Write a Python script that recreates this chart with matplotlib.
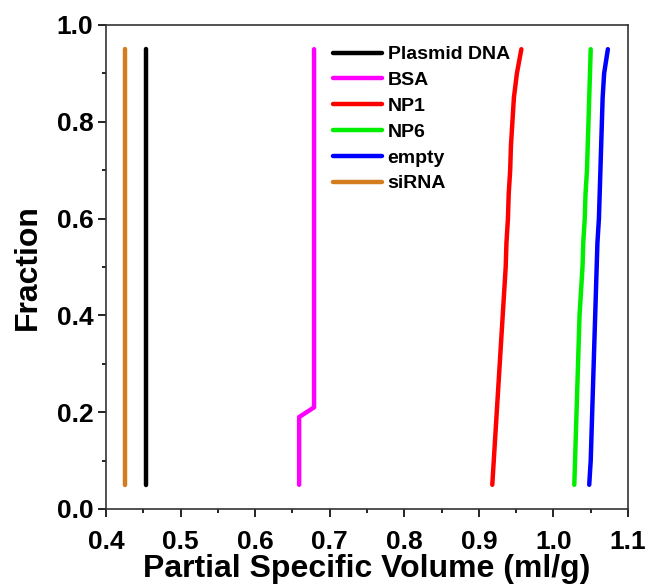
import matplotlib
matplotlib.use("Agg")
import matplotlib.pyplot as plt
from matplotlib.ticker import MultipleLocator

plt.rcParams['font.family'] = ['Liberation Sans', 'DejaVu Sans']
plt.rcParams['font.weight'] = 'bold'

fraction = [0.05, 0.10, 0.15, 0.20, 0.25, 0.30, 0.35, 0.40, 0.45, 0.50,
            0.55, 0.60, 0.65, 0.70, 0.75, 0.80, 0.85, 0.90, 0.95]

plasmid_dna = [0.453] * 19
sirna = [0.425] * 19
np1 = [0.918, 0.920, 0.922, 0.924, 0.926, 0.928, 0.930, 0.932, 0.934, 0.936,
       0.937, 0.939, 0.940, 0.942, 0.943, 0.945, 0.947, 0.951, 0.957]
np6 = [1.028, 1.029, 1.030, 1.031, 1.032, 1.033, 1.034, 1.035, 1.037, 1.039,
       1.040, 1.042, 1.043, 1.045, 1.046, 1.047, 1.048, 1.049, 1.050]
empty = [1.048, 1.050, 1.051, 1.052, 1.053, 1.054, 1.055, 1.056, 1.057, 1.058,
         1.059, 1.061, 1.062, 1.063, 1.064, 1.065, 1.066, 1.068, 1.073]
bsa_fraction = [0.05, 0.19, 0.21, 0.95]
bsa = [0.659, 0.659, 0.679, 0.679]

fig = plt.figure(figsize=(6.48, 5.86), dpi=100)
ax = fig.add_axes([106/648, 1 - 509/586, (628-106)/648, (509-25)/586])

lw = 3.2
kw = dict(lw=lw, solid_capstyle='round', solid_joinstyle='round')
ax.plot(plasmid_dna, fraction, color='black', label='Plasmid DNA', **kw)
ax.plot(bsa, bsa_fraction, color='#FF00FF', label='BSA', **kw)
ax.plot(np1, fraction, color='#FF0000', label='NP1', **kw)
ax.plot(np6, fraction, color='#00EE00', label='NP6', **kw)
ax.plot(empty, fraction, color='#0000FF', label='empty', **kw)
ax.plot(sirna, fraction, color='#D47D1E', label='siRNA', **kw)

ax.set_xlim(0.4, 1.1)
ax.set_ylim(0.0, 1.0)
ax.xaxis.set_major_locator(MultipleLocator(0.1))
ax.xaxis.set_minor_locator(MultipleLocator(0.05))
ax.yaxis.set_major_locator(MultipleLocator(0.2))
ax.yaxis.set_minor_locator(MultipleLocator(0.1))
ax.tick_params(which='major', direction='out', length=6, width=1.2,
               labelsize=19, top=False, right=False, pad=3)
ax.tick_params(axis='x', which='major', pad=9)
ax.tick_params(which='minor', direction='out', length=3, width=1.2,
               top=False, right=False)
for lab in ax.get_xticklabels() + ax.get_yticklabels():
    lab.set_fontweight('bold')
for s in ax.spines.values():
    s.set_linewidth(1.2)
    s.set_color('#333333')

ax.set_xlabel('Partial Specific Volume (ml/g)', fontsize=23, fontweight='bold', labelpad=0)
ax.set_ylabel('Fraction', fontsize=23, fontweight='bold', labelpad=10)

leg = ax.legend(loc='upper left', bbox_to_anchor=(0.435, 0.957), frameon=False,
                prop={'size': 14, 'weight': 'bold'}, handlelength=2.5,
                handletextpad=0.3, labelspacing=0.42, borderpad=0, borderaxespad=0)

fig.savefig('out.png', dpi=100)
